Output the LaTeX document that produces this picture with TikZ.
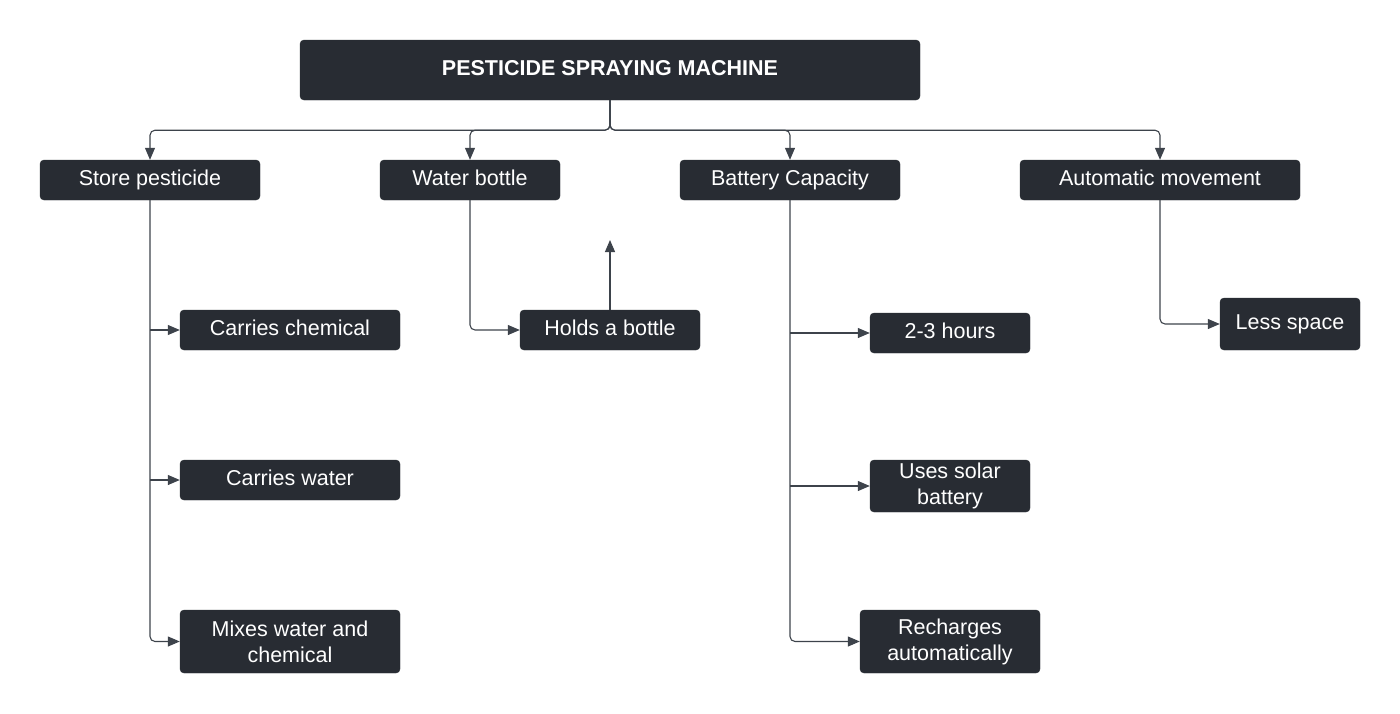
\documentclass[tikz,border=0pt]{standalone}
\usepackage{fontspec}
\setmainfont{Liberation Sans}
\usetikzlibrary{arrows.meta}
\definecolor{boxfill}{HTML}{282C33}
\definecolor{linecol}{HTML}{3D434B}
\tikzset{
  box/.style={draw=boxfill, fill=boxfill, rounded corners=4pt, text=white, align=center,
    font=\fontsize{21.5}{26}\selectfont, inner sep=0pt},
  one/.style={text height=15.5pt, text depth=4.5pt},
  conn/.style={draw=linecol, line width=1.1pt, rounded corners=5pt,
    -{Triangle[length=12pt,width=10pt]}},
}
\begin{document}
\begin{tikzpicture}[x=1pt,y=-1pt]
\useasboundingbox (0,0) rectangle (1400,713);
\node[box, one, minimum width=620, minimum height=60, font=\fontsize{21.5}{26}\selectfont\bfseries] (title) at (610,70) {PESTICIDE SPRAYING MACHINE};
\node[box, one, minimum width=220, minimum height=40] (sp) at (150,180) {Store pesticide};
\node[box, one, minimum width=180, minimum height=40] (wb) at (470,180) {Water bottle};
\node[box, one, minimum width=220, minimum height=40] (bc) at (790,180) {Battery Capacity};
\node[box, one, minimum width=280, minimum height=40] (am) at (1160,180) {Automatic movement};
\node[box, one, minimum width=220, minimum height=40] (cc) at (290,330) {Carries chemical};
\node[box, one, minimum width=220, minimum height=40] (cw) at (290,480) {Carries water};
\node[box, minimum width=220, minimum height=63] (mx) at (290,641.5) {Mixes water and\\chemical};
\node[box, one, minimum width=180, minimum height=40] (hb) at (610,330) {Holds a bottle};
\node[box, one, minimum width=160, minimum height=40] (h23) at (950,333) {2-3 hours};
\node[box, minimum width=160, minimum height=52] (usb) at (950,486) {Uses solar\\battery};
\node[box, minimum width=180, minimum height=63] (ra) at (950,641.5) {Recharges\\automatically};
\node[box, one, minimum width=140, minimum height=52] (ls) at (1290,324) {Less space};
\coordinate (hbup) at (610,240);
% top connectors
\draw[conn] (title.south) -- ++(0,30) -| (sp.north);
\draw[conn] (title.south) -- ++(0,30) -| (wb.north);
\draw[conn] (title.south) -- ++(0,30) -| (bc.north);
\draw[conn] (title.south) -- ++(0,30) -| (am.north);
% store pesticide
\draw[conn] (sp.south) |- (mx.west);
\draw[conn] (sp.south |- cc.west) -- (cc.west);
\draw[conn] (sp.south |- cw.west) -- (cw.west);
% water bottle
\draw[conn] (wb.south) |- (hb.west);
\draw[conn] (hb.north) -- (hbup);
% battery
\draw[conn] (bc.south) |- (ra.west);
\draw[conn] (bc.south |- h23.west) -- (h23.west);
\draw[conn] (bc.south |- usb.west) -- (usb.west);
% automatic movement
\draw[conn] (am.south) |- (ls.west);
\end{tikzpicture}
\end{document}
